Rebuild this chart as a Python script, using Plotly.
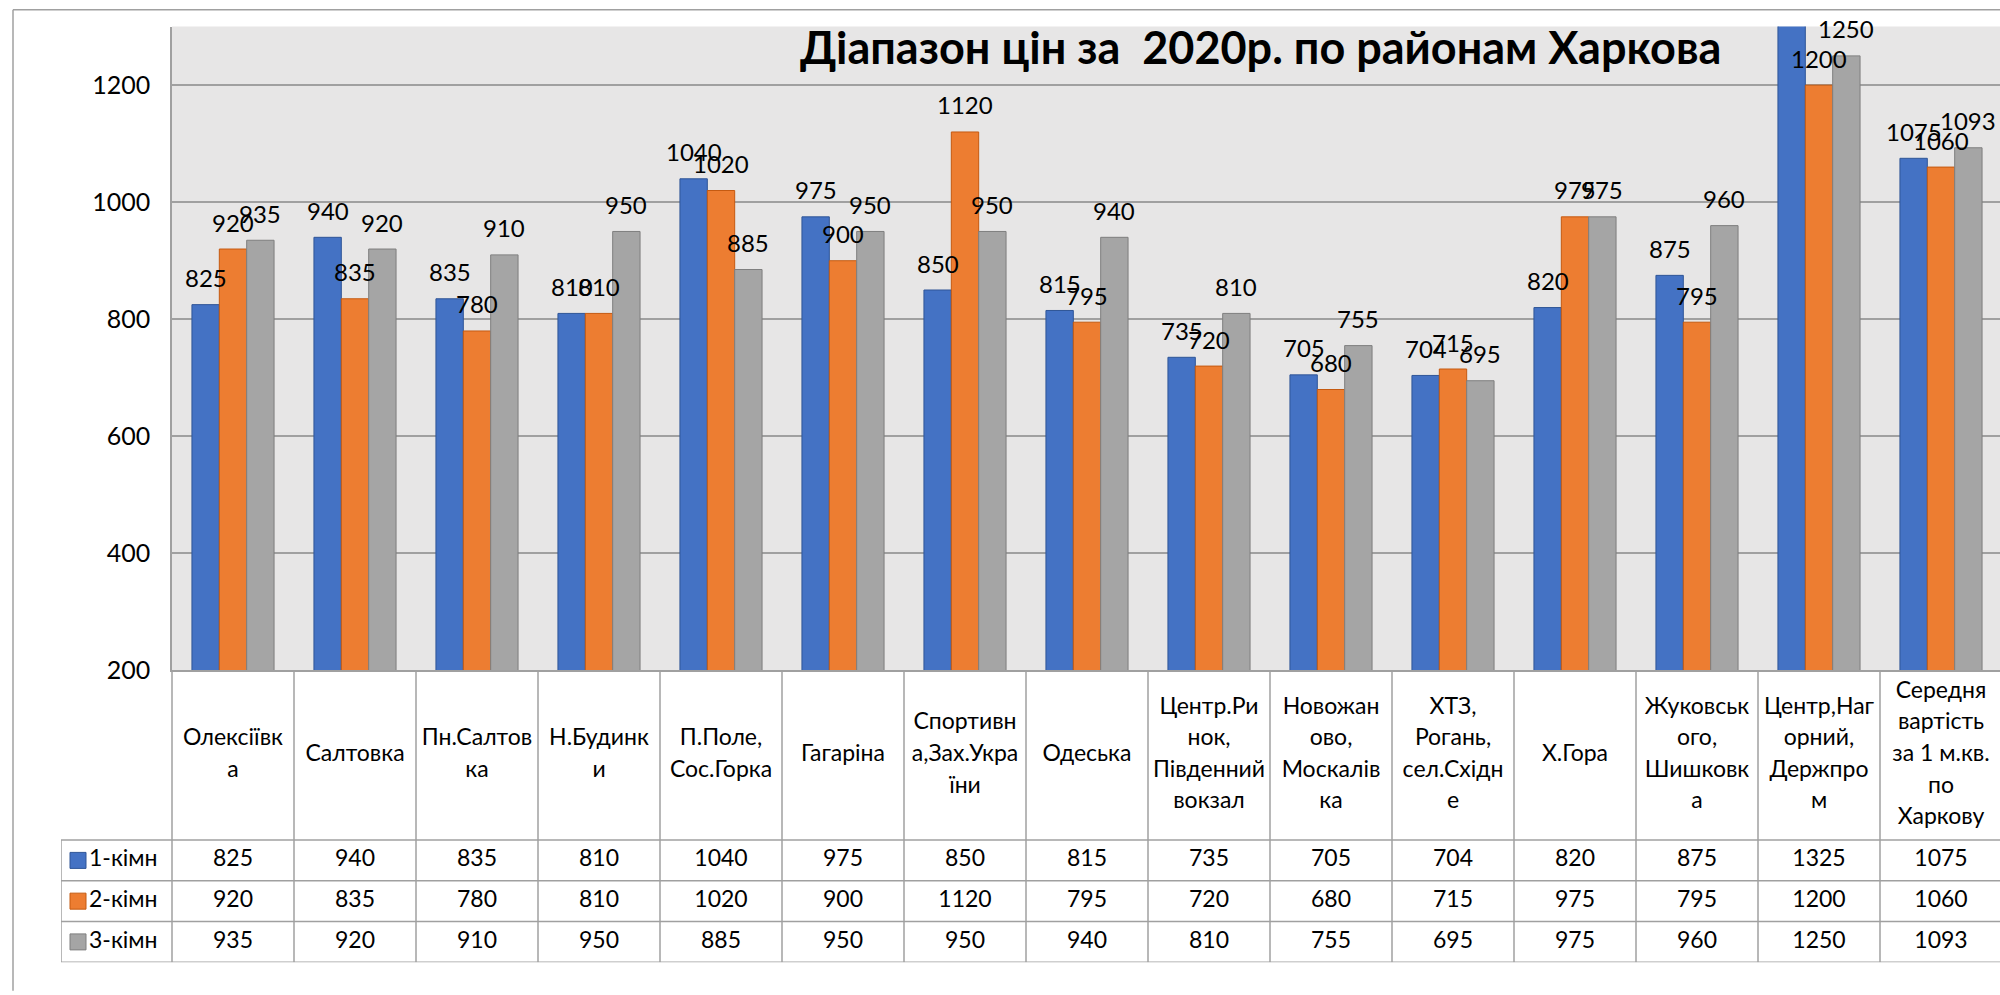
import plotly.graph_objects as go

# ---------------- data ----------------
categories = [
    "Олексіївка", "Салтовка", "Пн.Салтовка", "Н.Будинки", "П.Поле, Сос.Горка",
    "Гагаріна", "Спортивна,Зах.України", "Одеська", "Центр.Ринок, Південний вокзал",
    "Новожаново, Москалівка", "ХТЗ, Рогань, сел.Східне", "Х.Гора",
    "Жуковського, Шишковка", "Центр,Нагорний, Держпром",
    "Середня вартість за 1 м.кв. по Харкову",
]
header_labels = [
    "Олексіївк<br>а", "Салтовка", "Пн.Салтов<br>ка", "Н.Будинк<br>и", "П.Поле,<br>Сос.Горка",
    "Гагаріна", "Спортивн<br>а,Зах.Укра<br>їни", "Одеська",
    "Центр.Ри<br>нок,<br>Південний<br>вокзал", "Новожан<br>ово,<br>Москалів<br>ка",
    "ХТЗ,<br>Рогань,<br>сел.Східн<br>е", "Х.Гора", "Жуковськ<br>ого,<br>Шишковк<br>а",
    "Центр,Наг<br>орний,<br>Держпро<br>м", "Середня<br>вартість<br>за 1 м.кв.<br>по<br>Харкову",
]
series_names = ["1-кімн", "2-кімн", "3-кімн"]
one_room = [825, 940, 835, 810, 1040, 975, 850, 815, 735, 705, 704, 820, 875, 1325, 1075]
two_room = [920, 835, 780, 810, 1020, 900, 1120, 795, 720, 680, 715, 975, 795, 1200, 1060]
three_room = [935, 920, 910, 950, 885, 950, 950, 940, 810, 755, 695, 975, 960, 1250, 1093]
y_ticks = [200, 400, 600, 800, 1000, 1200]
y_range = [200, 1300]
title_text = "Діапазон цін за \u00a02020р. по районам Харкова"

series_values = [one_room, two_room, three_room]
fill_colors = ["#4472C4", "#ED7D31", "#A5A5A5"]
line_colors = ["#2F5597", "#C55A11", "#7F7F7F"]

# ---------------- layout geometry (pixels of the 2000x995 target) ----------------
W, H = 2000, 995
PLOT_L, PLOT_T, PLOT_B = 172, 27, 680
HEADER_B, TABLE_B = 852, 976
LEG_L = 61
n = len(categories)
COL_W = 122.0
BARGAP = 0.327
GRID = "#A0A0A0"
FONT = "Lato, Carlito, Calibri, sans-serif"
TXT = 23
LINE_PX = 32

x_right = (W - PLOT_L) / COL_W - 0.5
x2_left = -0.5 - (PLOT_L - LEG_L) / COL_W
row_h = (TABLE_B - HEADER_B) / 3.0
header_u = (HEADER_B - PLOT_B) / row_h
bar_w = COL_W * (1 - BARGAP) / 3.0

fig = go.Figure()

# bars
for name, vals, fc, lc in zip(series_names, series_values, fill_colors, line_colors):
    fig.add_trace(go.Bar(
        x=categories, y=vals, name=name,
        marker=dict(color=fc, line=dict(color=lc, width=1)),
        xaxis="x", yaxis="y", showlegend=False, hoverinfo="x+y+name",
    ))

# data labels (Excel hides labels of points outside the axis range)
annotations = []
for s, vals in enumerate(series_values):
    for cat, v in zip(categories, vals):
        if v <= y_range[1]:
            annotations.append(dict(
                x=cat, y=v, xref="x", yref="y", text=str(v), showarrow=False,
                xshift=(s - 1) * bar_w, yshift=27, yanchor="middle",
                font=dict(family=FONT, size=24, color="black"),
            ))

# title
annotations.append(dict(
    x=1260 / W, y=1 - 48 / H, xref="paper", yref="paper",
    text="<b>" + title_text + "</b>", showarrow=False,
    xanchor="center", yanchor="middle",
    font=dict(family=FONT, size=45, color="black"),
))

# data table: header labels, one text per wrapped line
hx, hy, ht = [], [], []
step = LINE_PX / row_h
for i, lab in enumerate(header_labels):
    parts = lab.split("<br>")
    k = len(parts)
    for j, p in enumerate(parts):
        hx.append(i)
        hy.append(-header_u / 2 + (j - (k - 1) / 2) * step)
        ht.append(p)
idx = list(range(n))
fig.add_trace(go.Scatter(
    x=hx, y=hy, text=ht, mode="text",
    textposition="middle center", textfont=dict(family=FONT, size=TXT, color="black"),
    xaxis="x2", yaxis="y2", showlegend=False, hoverinfo="skip",
))
# data table: values
for r, vals in enumerate(series_values):
    fig.add_trace(go.Scatter(
        x=idx, y=[r + 0.5] * n, text=[str(v) for v in vals], mode="text",
        textposition="middle center", textfont=dict(family=FONT, size=TXT, color="black"),
        xaxis="x2", yaxis="y2", showlegend=False, hoverinfo="skip",
    ))
# data table: legend keys
key_x = -0.5 - (PLOT_L - 78) / COL_W
fig.add_trace(go.Scatter(
    x=[key_x] * 3, y=[r + 0.5 for r in range(3)], text=series_names,
    mode="markers+text", textposition="middle right",
    marker=dict(symbol="square", size=16, color=fill_colors,
                line=dict(color=line_colors, width=1)),
    textfont=dict(family=FONT, size=TXT, color="black"),
    xaxis="x2", yaxis="y2", showlegend=False, hoverinfo="skip",
))

shapes = []
# plot-area background
shapes.append(dict(type="rect", xref="x domain", yref="y domain", x0=0, x1=1, y0=0, y1=1,
                   fillcolor="#E7E6E6", line=dict(width=0), layer="below"))
# table horizontal lines
for r in range(4):
    shapes.append(dict(type="line", xref="x2", yref="y2", x0=x2_left, x1=x_right + 1,
                       y0=r, y1=r, line=dict(color=GRID, width=1.5), layer="above"))
# table vertical lines
for i in range(n + 1):
    shapes.append(dict(type="line", xref="x2", yref="y2", x0=i - 0.5, x1=i - 0.5,
                       y0=-header_u, y1=3, line=dict(color=GRID, width=1.5), layer="above"))
shapes.append(dict(type="line", xref="x2", yref="y2", x0=x2_left, x1=x2_left,
                   y0=0, y1=3, line=dict(color=GRID, width=1.5), layer="above"))
# chart outer border
shapes.append(dict(type="line", xref="paper", yref="paper", x0=13 / W, x1=1.01,
                   y0=1 - 10 / H, y1=1 - 10 / H, line=dict(color=GRID, width=1.5)))
shapes.append(dict(type="line", xref="paper", yref="paper", x0=13 / W, x1=13 / W,
                   y0=1 - 10 / H, y1=-0.01, line=dict(color=GRID, width=1.5)))

fig.update_layout(
    autosize=True, margin=dict(l=0, r=0, t=0, b=0, pad=0),
    paper_bgcolor="white", plot_bgcolor="white",
    barmode="group", bargap=BARGAP, bargroupgap=0,
    font=dict(family=FONT, size=TXT, color="black"),
    xaxis=dict(type="category", domain=[PLOT_L / W, 1], range=[-0.5, x_right],
               showticklabels=False, showgrid=False, zeroline=False, ticks="",
               showline=True, linecolor=GRID, linewidth=1.5, anchor="y", fixedrange=True),
    yaxis=dict(domain=[1 - PLOT_B / H, 1 - PLOT_T / H], range=y_range,
               tickvals=y_ticks, ticktext=[str(t) for t in y_ticks],
               showgrid=True, gridcolor=GRID, gridwidth=1.5, zeroline=False,
               showline=True, linecolor=GRID, linewidth=1.5,
               ticks="outside", ticklen=15, tickcolor="rgba(0,0,0,0)",
               tickfont=dict(family=FONT, size=25, color="black"), anchor="x", fixedrange=True),
    xaxis2=dict(domain=[LEG_L / W, 1], range=[x2_left, x_right], visible=False,
                anchor="y2", fixedrange=True),
    yaxis2=dict(domain=[1 - TABLE_B / H, 1 - PLOT_B / H], range=[3, -header_u],
                visible=False, anchor="x2", fixedrange=True),
    annotations=annotations, shapes=shapes,
)

fig.write_html(
    "out.html", config={"displayModeBar": False, "responsive": True},
    default_width="100vw", default_height="100vh",
    post_script=(
        "document.documentElement.style.margin='0';"
        "document.body.style.margin='0';document.body.style.overflow='hidden';"
        "var d=document.getElementById('{plot_id}');"
        "d.style.position='fixed';d.style.left='0px';d.style.top='0px';"
        "Plotly.Plots.resize(d);"
    ),
)
